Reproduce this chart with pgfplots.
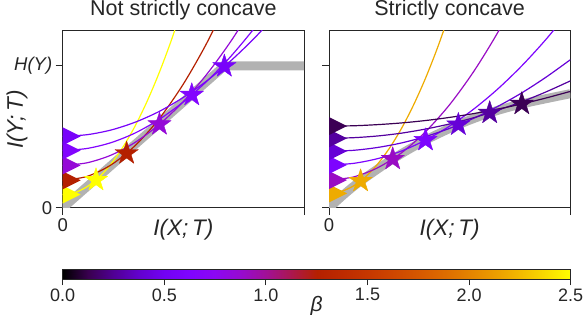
\documentclass[border=0pt]{standalone}
\usepackage{fontspec}
\setmainfont{Liberation Sans}
\usepackage{pgfplots}
\pgfplotsset{compat=1.18}
\pgfdeclareplotmark{fstar}{%
\pgfpathmoveto{\pgfqpointpolar{90}{\pgfplotmarksize}}%
\pgfpathlineto{\pgfqpointpolar{126}{0.382\pgfplotmarksize}}%
\pgfpathlineto{\pgfqpointpolar{162}{\pgfplotmarksize}}%
\pgfpathlineto{\pgfqpointpolar{198}{0.382\pgfplotmarksize}}%
\pgfpathlineto{\pgfqpointpolar{234}{\pgfplotmarksize}}%
\pgfpathlineto{\pgfqpointpolar{270}{0.382\pgfplotmarksize}}%
\pgfpathlineto{\pgfqpointpolar{306}{\pgfplotmarksize}}%
\pgfpathlineto{\pgfqpointpolar{342}{0.382\pgfplotmarksize}}%
\pgfpathlineto{\pgfqpointpolar{18}{\pgfplotmarksize}}%
\pgfpathlineto{\pgfqpointpolar{54}{0.382\pgfplotmarksize}}%
\pgfpathclose\pgfusepathqfillstroke}
\pgfdeclareplotmark{rtri}{%
\pgfpathmoveto{\pgfqpoint{0pt}{0.5\pgfplotmarksize}}%
\pgfpathlineto{\pgfqpoint{\pgfplotmarksize}{0pt}}%
\pgfpathlineto{\pgfqpoint{0pt}{-0.5\pgfplotmarksize}}%
\pgfpathclose\pgfusepathqfill}
\pgfplotsset{colormap={gnup}{rgb=(0,0,0) rgb=(0.2236,0.0001,0.3090) rgb=(0.3162,0.001,0.5878) rgb=(0.3873,0.0034,0.8090) rgb=(0.4472,0.008,0.9511) rgb=(0.5,0.0156,1) rgb=(0.5477,0.027,0.9511) rgb=(0.5916,0.0429,0.8090) rgb=(0.6325,0.064,0.5878) rgb=(0.6708,0.0911,0.3090) rgb=(0.7071,0.125,0) rgb=(0.7416,0.1664,0) rgb=(0.7746,0.216,0) rgb=(0.8062,0.2746,0) rgb=(0.8367,0.343,0) rgb=(0.8660,0.4219,0) rgb=(0.8944,0.512,0) rgb=(0.9220,0.6141,0) rgb=(0.9487,0.729,0) rgb=(0.9747,0.8574,0) rgb=(1,1,0)}}
\definecolor{cY}{rgb}{1,1,0}
\definecolor{cR}{rgb}{0.707,0.125,0}
\definecolor{cLc}{rgb}{0.583,0.039,0.844}
\definecolor{cLd}{rgb}{0.51,0.018,0.998}
\definecolor{cLe}{rgb}{0.469,0.011,0.982}
\definecolor{cO}{rgb}{0.935,0.67,0}
\definecolor{cM}{rgb}{0.6,0.047,0.77}
\definecolor{cP}{rgb}{0.49,0.014,0.998}
\definecolor{cDa}{rgb}{0.4,0.004,0.844}
\definecolor{cDb}{rgb}{0.329,0.001,0.624}
\definecolor{cDc}{rgb}{0.23,0,0.33}
\definecolor{spine}{rgb}{0.15,0.15,0.15}
\definecolor{band}{rgb}{0.7,0.7,0.7}
\pgfplotsset{
  myax/.style={scale only axis, width=241.3bp, height=177.3bp,
    xmin=0, xmax=1, ymin=0, ymax=1.2486, clip=true,
    axis line style={spine, line width=1bp},
    tick style={spine, line width=1bp}, major tick length=7bp,
    tick align=outside, xtick pos=bottom, ytick pos=left,
    ticklabel style={font=\fontsize{18.5bp}{22bp}\selectfont, text=spine},
    xtick={0,1}, ytick={0,1}, xticklabels={0,{}},
    title style={at={(axis description cs:0.5,1)}, anchor=base, inner sep=0pt, yshift=9bp,
      font=\fontsize{21.5bp}{25bp}\selectfont, text=spine},
    xlabel style={at={(axis description cs:0.5,0)}, anchor=north, inner sep=0pt, yshift=-11bp,
      font=\fontsize{22.5bp}{26bp}\selectfont, text=spine},
    ylabel style={at={(axis description cs:-0.1894,0.5)}, anchor=center, inner sep=0pt,
      font=\fontsize{22.5bp}{26bp}\selectfont, text=spine},
  },
  curv/.style={line width=1.2bp, smooth, no marks},
  tri/.style={only marks, mark=rtri, mark size=18bp},
  st/.style={only marks, mark=fstar, mark size=12.3bp, mark options={line join=round, line width=0.4bp}},
}
\begin{document}
\begin{tikzpicture}
\path[use as bounding box] (0,0) rectangle (586bp,315bp);
% ---------- left ----------
\begin{axis}[myax, at={(62.7bp,107bp)}, anchor=south west,
  title={Not strictly concave}, xlabel={\textit{I(X;\,T)}}, ylabel={\textit{I(Y;\,T)}},
  yticklabels={0,\textit{H(Y)}}]
\addplot[band, line width=9bp, no marks] coordinates {(0,0) (0.670,1) (1.05,1)};
\addplot[curv, cY] coordinates {(0,0.095) (0.05,0.108) (0.1,0.149) (0.15,0.216) (0.2,0.309) (0.25,0.430) (0.3,0.577) (0.35,0.752) (0.4,0.953) (0.45,1.180) (0.5,1.435)};
\addplot[curv, cR] coordinates {(0,0.195) (0.1,0.222) (0.2,0.303) (0.3,0.439) (0.4,0.629) (0.5,0.873) (0.6,1.171) (0.7,1.523)};
\addplot[curv, cLc] coordinates {(0,0.300) (0.1,0.318) (0.2,0.372) (0.3,0.462) (0.4,0.588) (0.5,0.750) (0.6,0.948) (0.7,1.182) (0.8,1.452)};
\addplot[curv, cLd] coordinates {(0,0.405) (0.1,0.419) (0.2,0.460) (0.3,0.528) (0.4,0.624) (0.5,0.747) (0.6,0.897) (0.7,1.074) (0.8,1.279) (0.9,1.511)};
\addplot[curv, cLe] coordinates {(0,0.505) (0.1,0.516) (0.2,0.549) (0.3,0.604) (0.4,0.680) (0.5,0.779) (0.6,0.899) (0.7,1.042) (0.8,1.206) (0.9,1.392)};
\addplot[tri, cY] coordinates {(0,0.095)};
\addplot[tri, cR] coordinates {(0,0.195)};
\addplot[tri, cLc] coordinates {(0,0.300)};
\addplot[tri, cLd] coordinates {(0,0.405)};
\addplot[tri, cLe] coordinates {(0,0.505)};
\addplot[st, cY] coordinates {(0.138,0.197)};
\addplot[st, cR] coordinates {(0.265,0.385)};
\addplot[st, cLc] coordinates {(0.401,0.589)};
\addplot[st, cLd] coordinates {(0.535,0.796)};
\addplot[st, cLe] coordinates {(0.670,0.998)};
\end{axis}
% ---------- right ----------
\begin{axis}[myax, at={(329bp,107bp)}, anchor=south west,
  title={Strictly concave}, xlabel={\textit{I(X;\,T)}}, yticklabels={}]
\addplot[band, line width=9bp, smooth, no marks] coordinates {(0,0) (0.065,0.100) (0.131,0.190) (0.264,0.345) (0.400,0.478) (0.536,0.587) (0.666,0.670) (0.799,0.733) (1.0,0.805)};
\addplot[curv, cO] coordinates {(0,0.103) (0.05,0.116) (0.1,0.154) (0.15,0.217) (0.2,0.306) (0.25,0.420) (0.3,0.559) (0.35,0.724) (0.4,0.914) (0.45,1.130) (0.5,1.371)};
\addplot[curv, cM] coordinates {(0,0.197) (0.1,0.218) (0.2,0.282) (0.3,0.388) (0.4,0.537) (0.5,0.728) (0.6,0.962) (0.7,1.238) (0.8,1.556)};
\addplot[curv, cP] coordinates {(0,0.303) (0.1,0.314) (0.2,0.347) (0.3,0.401) (0.4,0.478) (0.5,0.577) (0.6,0.697) (0.7,0.839) (0.8,1.003) (0.9,1.189) (1.0,1.397)};
\addplot[curv, cDa] coordinates {(0,0.400) (0.1,0.406) (0.2,0.426) (0.3,0.458) (0.4,0.503) (0.5,0.561) (0.6,0.632) (0.7,0.716) (0.8,0.812) (0.9,0.922) (1.0,1.044)};
\addplot[curv, cDb] coordinates {(0,0.491) (0.1,0.495) (0.2,0.507) (0.3,0.527) (0.4,0.556) (0.5,0.592) (0.6,0.636) (0.7,0.689) (0.8,0.749) (0.9,0.818) (1.0,0.895)};
\addplot[curv, cDc] coordinates {(0,0.577) (0.1,0.579) (0.2,0.587) (0.3,0.599) (0.4,0.616) (0.5,0.638) (0.6,0.665) (0.7,0.697) (0.8,0.733) (0.9,0.775) (1.0,0.821)};
\addplot[tri, cO] coordinates {(0,0.103)};
\addplot[tri, cM] coordinates {(0,0.197)};
\addplot[tri, cP] coordinates {(0,0.303)};
\addplot[tri, cDa] coordinates {(0,0.400)};
\addplot[tri, cDb] coordinates {(0,0.491)};
\addplot[tri, cDc] coordinates {(0,0.577)};
\addplot[st, cO] coordinates {(0.131,0.190)};
\addplot[st, cM] coordinates {(0.264,0.345)};
\addplot[st, cP] coordinates {(0.400,0.478)};
\addplot[st, cDa] coordinates {(0.536,0.587)};
\addplot[st, cDb] coordinates {(0.666,0.670)};
\addplot[st, cDc] coordinates {(0.799,0.733)};
\end{axis}
% ---------- colorbar ----------
\begin{axis}[at={(62.7bp,36bp)}, anchor=south west, scale only axis,
  width=508bp, height=10bp, xmin=0, xmax=2.5, ymin=0, ymax=1,
  view={0}{90}, colormap name=gnup, point meta min=0, point meta max=2.5,
  ytick=\empty, ztick=\empty, xtick={0,0.5,1,1.5,2,2.5},
  xticklabels={0.0,0.5,1.0,1.5,2.0,2.5},
  tick align=outside, xtick pos=bottom, major tick length=6bp, axis on top,
  axis line style={spine, line width=0.8bp}, tick style={spine, line width=1bp},
  ticklabel style={font=\fontsize{18bp}{21bp}\selectfont, text=spine},
  xlabel={\textit{β}},
  xlabel style={at={(axis description cs:0.5,0)}, anchor=base, inner sep=0pt, yshift=-32bp,
    font=\fontsize{21bp}{25bp}\selectfont, text=spine}]
\addplot3[surf, shader=interp, mesh/rows=2, mesh/cols=21, point meta=x] coordinates {
(0,0,0) (0.125,0,0) (0.25,0,0) (0.375,0,0) (0.5,0,0) (0.625,0,0) (0.75,0,0) (0.875,0,0) (1,0,0) (1.125,0,0) (1.25,0,0) (1.375,0,0) (1.5,0,0) (1.625,0,0) (1.75,0,0) (1.875,0,0) (2,0,0) (2.125,0,0) (2.25,0,0) (2.375,0,0) (2.5,0,0)
(0,1,0) (0.125,1,0) (0.25,1,0) (0.375,1,0) (0.5,1,0) (0.625,1,0) (0.75,1,0) (0.875,1,0) (1,1,0) (1.125,1,0) (1.25,1,0) (1.375,1,0) (1.5,1,0) (1.625,1,0) (1.75,1,0) (1.875,1,0) (2,1,0) (2.125,1,0) (2.25,1,0) (2.375,1,0) (2.5,1,0)
};
\end{axis}
\end{tikzpicture}
\end{document}
